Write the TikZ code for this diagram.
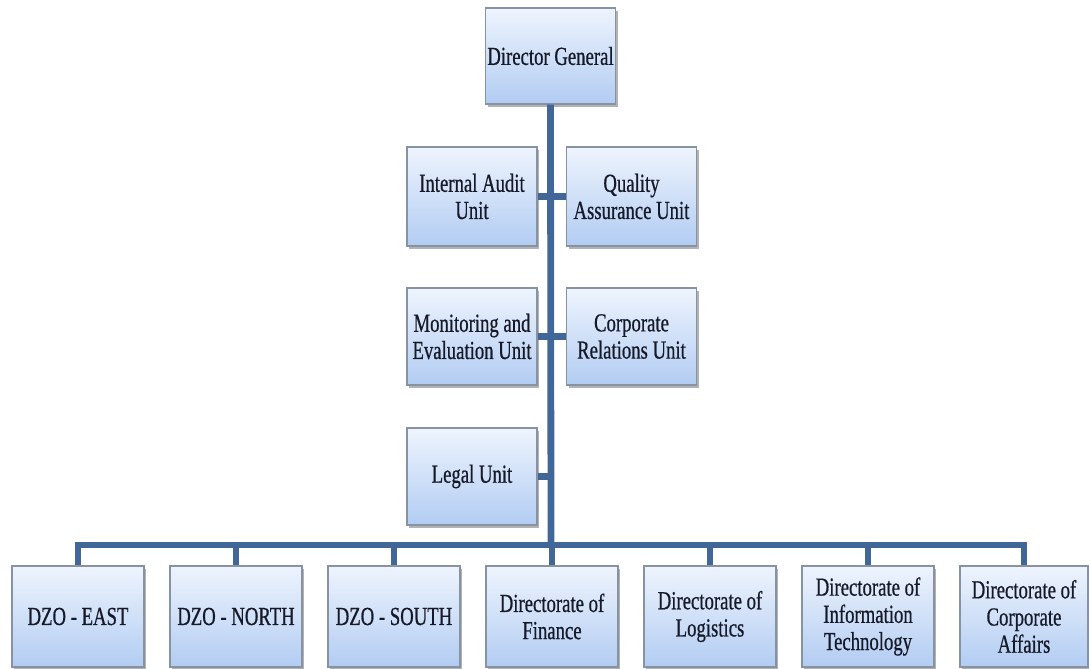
\documentclass[tikz,border=0pt]{standalone}
\usepackage{fontspec}
\setmainfont[FakeStretch=0.72,FakeBold=0.6]{Liberation Serif}
\usetikzlibrary{shadows}
\definecolor{boxtop}{RGB}{238,244,253}
\definecolor{boxbot}{RGB}{178,204,242}
\definecolor{boxline}{RGB}{135,146,162}
\definecolor{linkblue}{RGB}{64,103,152}
\definecolor{inkdark}{RGB}{22,26,40}
\begin{document}
\begin{tikzpicture}[x=0.5pt,y=-0.5pt,
	unit/.style={draw=boxline,line width=.6pt,top color=boxtop,bottom color=boxbot,
		minimum width=65pt,minimum height=49pt,inner sep=1pt,align=center,text=inkdark,
		font=\fontsize{13}{13.6}\selectfont,
		drop shadow={shadow xshift=1.2pt,shadow yshift=-1.4pt,fill=black!55,opacity=.55}},
	link/.style={draw=linkblue,line width=3.4pt}]
	\useasboundingbox(0,0)rectangle(1089,669);
	% top and staff units
	\node[unit,minimum width=63.5pt,minimum height=48pt](dg)at(550.5,56){Director General};
	\node[unit,minimum height=49.5pt](ia)at(472,196.5){Internal Audit\\Unit};
	\node[unit,minimum height=49.5pt](qa)at(631.5,196.5){Quality\\Assurance Unit};
	\node[unit,minimum height=48.5pt](me)at(472,336.5){Monitoring and\\Evaluation Unit};
	\node[unit,minimum height=48.5pt](cr)at(631.5,336.5){Corporate\\Relations Unit};
	\node[unit,minimum height=48.5pt](lu)at(472,476.5){Legal Unit};
	% directorates
	\node[unit,minimum width=66pt,minimum height=50.5pt](e1)at(78,616.5){DZO - EAST};
	\node[unit,minimum width=66pt,minimum height=50.5pt](e2)at(236,616.5){DZO - NORTH};
	\node[unit,minimum width=66pt,minimum height=50.5pt](e3)at(394,616.5){DZO - SOUTH};
	\node[unit,minimum width=66pt,minimum height=50.5pt](e4)at(552,616.5){Directorate of\\Finance};
	\node[unit,minimum width=66pt,minimum height=50.5pt](e5)at(710,616.5){Directorate of\\Logistics};
	\node[unit,minimum width=66pt,minimum height=50.5pt](e6)at(868,616.5){Directorate of\\Information\\Technology};
	\node[unit,minimum width=64pt,minimum height=50.5pt](e7)at(1024,616.5){Directorate of\\Corporate\\Affairs};
	\coordinate(bus)at(551,545);
	% connectors
	\draw[link](dg.south)--(bus);
	\draw[link](ia.east)--(ia.east-|dg.south);
	\draw[link](qa.west)--(qa.west-|dg.south);
	\draw[link](me.east)--(me.east-|dg.south);
	\draw[link](cr.west)--(cr.west-|dg.south);
	\draw[link](lu.east)--(lu.east-|dg.south);
	\draw[link](bus)-|(e1.north);
	\draw[link](bus)-|(e2.north);
	\draw[link](bus)-|(e3.north);
	\draw[link](bus)-|(e4.north);
	\draw[link](bus)-|(e5.north);
	\draw[link](bus)-|(e6.north);
	\draw[link](bus)-|(e7.north);
\end{tikzpicture}
\end{document}
